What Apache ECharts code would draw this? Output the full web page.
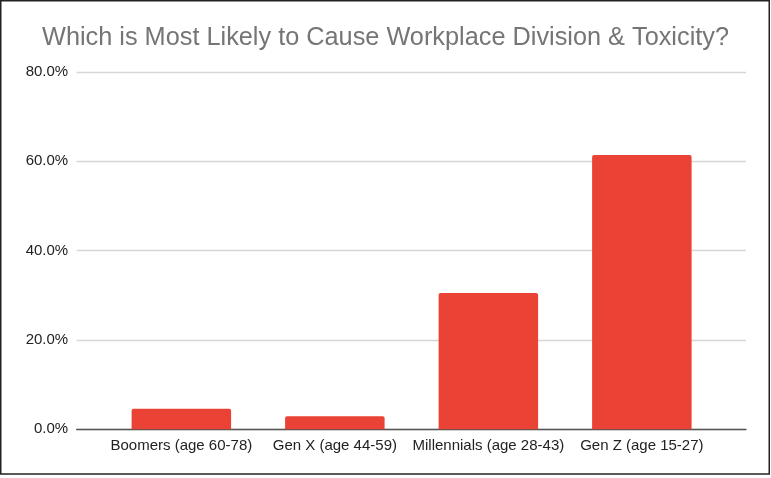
<!DOCTYPE html>
<html>
<head>
<meta charset="utf-8">
<script src="https://cdn.jsdelivr.net/npm/echarts@6/dist/echarts.min.js"></script>
<style>
html,body{margin:0;padding:0;background:#fff;}
#chart{width:771px;height:478px;}
</style>
</head>
<body>
<div id="chart"></div>
<script>
const titleText = "Which is Most Likely to Cause Workplace Division & Toxicity?";
const categories = ["Boomers (age 60-78)", "Gen X (age 44-59)", "Millennials (age 28-43)", "Gen Z (age 15-27)"];
const values = [4.6, 2.9, 30.5, 61.4];
const yTicks = [0, 20, 40, 60, 80];

const font = "'Liberation Sans', Arial, Helvetica, sans-serif";
const chart = echarts.init(document.getElementById('chart'), null, {renderer: 'canvas'});
const yMin = yTicks[0], yMax = yTicks[yTicks.length - 1], yStep = yTicks[1] - yTicks[0];

chart.setOption({
  animation: false,
  backgroundColor: '#ffffff',
  title: {
    text: titleText,
    left: 'center',
    top: 21,
    textStyle: {fontFamily: font, fontSize: 25.3, fontWeight: 'normal', color: '#757575'}
  },
  graphic: [{
    type: 'rect',
    shape: {x: 0.75, y: 0.75, width: 768.5, height: 473.3},
    style: {fill: 'none', stroke: '#222', lineWidth: 1.5},
    silent: true
  }],
  grid: [
    {left: 76.7, right: 25, top: 72, bottom: 48.7},
    {left: 104.6, right: 52.4, top: 72, bottom: 48.7}
  ],
  xAxis: [
    {
      type: 'category', gridIndex: 0, data: categories,
      axisLine: {show: true, lineStyle: {color: '#555', width: 1.3}},
      axisTick: {show: false}, axisLabel: {show: false}, splitLine: {show: false}
    },
    {
      type: 'category', gridIndex: 1, data: categories,
      axisLine: {show: false}, axisTick: {show: false},
      axisLabel: {fontFamily: font, fontSize: 15, color: '#222', margin: 9, interval: 0}
    }
  ],
  yAxis: [
    {
      type: 'value', gridIndex: 0, min: yMin, max: yMax, interval: yStep,
      axisLine: {show: false}, axisTick: {show: false},
      axisLabel: {fontFamily: font, fontSize: 15, color: '#222', margin: 8.5,
        formatter: v => v.toFixed(1) + '%'},
      splitLine: {show: true, lineStyle: {color: '#d6d6d6', width: 1.3}}
    },
    {
      type: 'value', gridIndex: 1, min: yMin, max: yMax, interval: yStep,
      axisLine: {show: false}, axisTick: {show: false}, axisLabel: {show: false},
      splitLine: {show: false}
    }
  ],
  series: [{
    type: 'bar',
    xAxisIndex: 1, yAxisIndex: 1,
    data: values,
    barWidth: 99.5,
    itemStyle: {color: '#ea4335', borderRadius: [2, 2, 0, 0]}
  }]
});
</script>
</body>
</html>
